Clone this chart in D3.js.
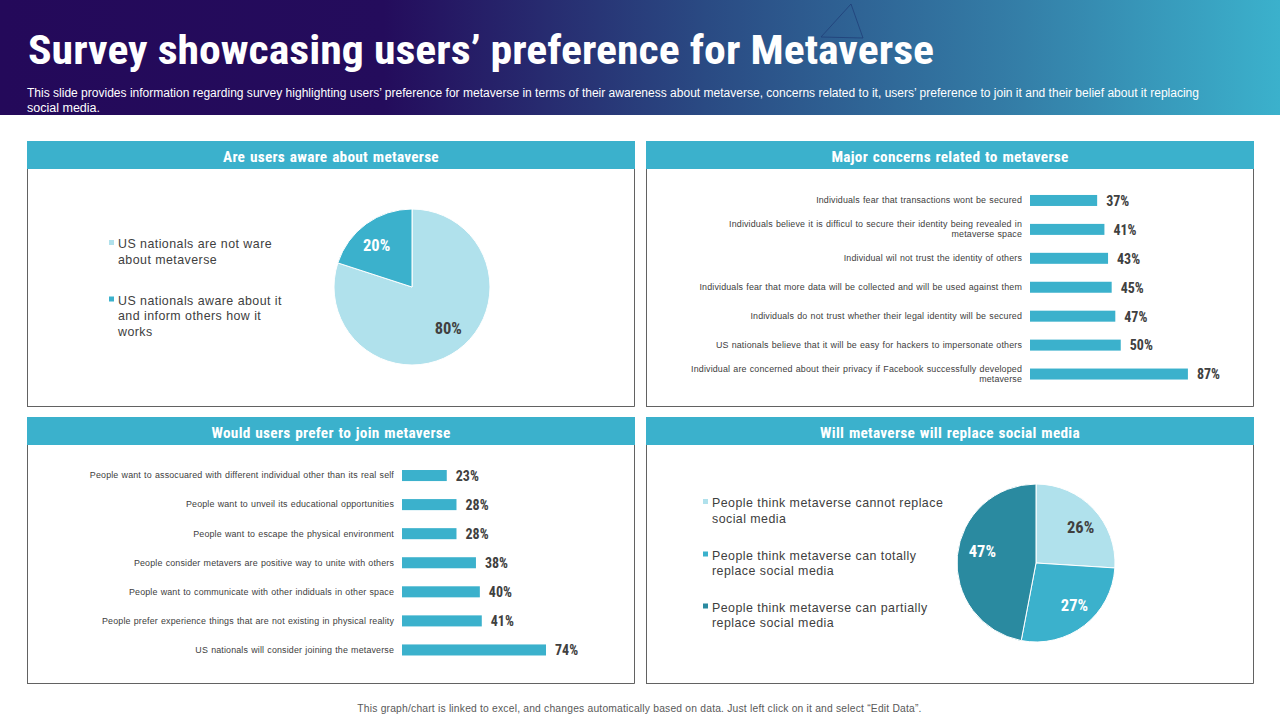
<!DOCTYPE html>
<html><head><meta charset="utf-8">
<script src="https://cdn.jsdelivr.net/npm/d3@7"></script>
<style>html,body{margin:0;padding:0;background:#fff}svg{display:block}text{font-family:"Liberation Sans",Arial,sans-serif}</style>
</head><body><svg id="c" width="1280" height="720"></svg>
<script>
const titleText="Survey showcasing users’ preference for Metaverse";
const subtitleLines=["This slide provides information regarding survey highlighting users’ preference for metaverse in terms of their awareness about metaverse, concerns related to it, users’ preference to join it and their belief about it replacing","social media."];
const footerText="This graph/chart is linked to excel, and changes automatically based on data. Just left click on it and select “Edit Data”.";
const panelTitles=["Are users aware about metaverse","Major concerns related to metaverse","Would users prefer to join metaverse","Will metaverse will replace social media"];

const awareLabels=["US nationals are not ware\nabout metaverse","US nationals aware about it\nand inform others how it\nworks"];
const awareValues=[80,20];
const concernCategories=["Individuals fear that transactions wont be secured","Individuals believe it is difficul to secure their identity being revealed in\nmetaverse space","Individual wil not trust the identity of others","Individuals fear that more data will be collected and will be used against them","Individuals do not trust whether their legal identity will be secured","US nationals believe that it will be easy for hackers to impersonate others","Individual are concerned about their privacy if Facebook successfully developed\nmetaverse"];
const concernValues=[37,41,43,45,47,50,87];
const joinCategories=["People want to assocuared with different individual other than its real self","People want to unveil its educational opportunities","People want to escape the physical environment","People consider metavers are positive way to unite with others","People want to communicate with other indiduals in other space","People prefer experience things that are not existing in physical reality","US nationals will consider joining the metaverse"];
const joinValues=[23,28,28,38,40,41,74];
const replaceLabels=["People think metaverse cannot replace\nsocial media","People think metaverse can totally\nreplace social media","People think metaverse can partially\nreplace social media"];
const replaceValues=[26,27,47];

const TEAL="#3BB1CC",LIGHT="#B0E1EC",DARK="#2A8AA0",INK="#404040";
const NARROW='"Liberation Sans Narrow","Roboto Condensed","Liberation Sans",sans-serif';
const svg=d3.select("#c");

// header band
const grad=svg.append("defs").append("linearGradient").attr("id","hg");
[[0,"#24095A"],[.3,"#240C5C"],[.55,"#2A4A83"],[.8,"#347FA8"],[1,"#3BB1CC"]].forEach(s=>grad.append("stop").attr("offset",s[0]).attr("stop-color",s[1]));
svg.append("rect").attr("width",1280).attr("height",115).attr("fill","url(#hg)");
svg.append("path").attr("d","M821 37L851 4L863 38Z").attr("fill","none").attr("stroke","#1f3f78").attr("stroke-width",.8);
svg.append("text").attr("x",28).attr("y",64).attr("fill","#fff").attr("font-size",41).attr("font-weight",700)
  .attr("textLength",906).attr("lengthAdjust","spacingAndGlyphs").style("font-family",NARROW).text(titleText);
subtitleLines.forEach((t,i)=>{
  const el=svg.append("text").attr("x",27).attr("y",97+i*14.5).attr("fill","#fff").attr("font-size",12).text(t);
  if(i===0) el.attr("textLength",1172).attr("lengthAdjust","spacingAndGlyphs");
  else el.attr("textLength",73).attr("lengthAdjust","spacingAndGlyphs");
});

// panels
const panels=[{x:27,y:141,h:266},{x:646,y:141,h:266},{x:27,y:417,h:267},{x:646,y:417,h:267}];
panels.forEach((p,i)=>{
  svg.append("rect").attr("x",p.x+.5).attr("y",p.y+.5).attr("width",607).attr("height",p.h-1).attr("fill","#fff").attr("stroke","#3c3c3c").attr("stroke-width",.8);
  svg.append("rect").attr("x",p.x).attr("y",p.y).attr("width",608).attr("height",28).attr("fill",TEAL);
  svg.append("text").attr("x",p.x+304).attr("y",p.y+20.5).attr("text-anchor","middle").attr("fill","#fff")
    .attr("font-size",15.3).attr("font-weight",700).style("font-family",NARROW).style("word-spacing","1px").style("letter-spacing",".25px").text(panelTitles[i]);
});

function bars(cats,vals,x0,pxPerPct,yTop,yBottom){
  const y=d3.scaleBand().domain(cats).range([yTop,yBottom]).paddingInner(.62).paddingOuter(.31);
  const x=d3.scaleLinear().domain([0,100]).range([x0,x0+pxPerPct*100]);
  const g=svg.append("g").attr("transform",`translate(${x0},0)`).call(d3.axisLeft(y).tickSize(0).tickPadding(8));
  g.select(".domain").remove();
  g.selectAll(".tick text").each(function(d){
    const lines=d.split("\n"),t=d3.select(this).text(null).attr("fill","#404040").attr("font-size",8.9).attr("dy",null).style("letter-spacing",".16px").style("word-spacing",".5px");
    lines.forEach((l,i)=>t.append("tspan").attr("x",-8).attr("y",(i-(lines.length-1)/2)*10.5).attr("dy","0.32em").text(l));
  });
  const rows=cats.map((c,i)=>({c,v:vals[i]}));
  svg.append("g").selectAll("rect").data(rows).join("rect").attr("x",x(0)).attr("y",d=>y(d.c)).attr("height",y.bandwidth())
    .attr("width",d=>x(d.v)-x(0)).attr("fill",TEAL);
  svg.append("g").selectAll("text").data(rows).join("text").attr("x",d=>x(d.v)+9).attr("y",d=>y(d.c)+y.bandwidth()/2+.3).attr("dy","0.36em")
    .attr("fill",INK).attr("font-size",14).attr("font-weight",700).style("font-family",NARROW).text(d=>d.v+"%");
}
bars(concernCategories,concernValues,1030,1.815,186,388.5);
bars(joinCategories,joinValues,402,1.946,461,664.5);

function pie(vals,colors,cx,cy,r,labelPos,labelColors,nudges){
  const arcs=d3.pie().sort(null)(vals),arc=d3.arc().innerRadius(0).outerRadius(r);
  const g=svg.append("g").attr("transform",`translate(${cx},${cy})`);
  g.selectAll("path").data(arcs).join("path").attr("d",arc).attr("fill",(d,i)=>colors[i]).attr("stroke","#fff").attr("stroke-width",1);
  g.selectAll("text").data(arcs).join("text").attr("text-anchor","middle").attr("dy","0.36em")
    .attr("transform",(d,i)=>{const c=d3.arc().innerRadius(0).outerRadius(r*2*labelPos[i]).centroid(d);return `translate(${c[0]+nudges[i][0]},${c[1]+nudges[i][1]})`})
    .attr("fill",(d,i)=>labelColors[i]).attr("font-size",16.5).attr("font-weight",700).style("font-family",NARROW).text(d=>d.value+"%");
}
pie(awareValues,[LIGHT,TEAL],412,287,78,[.77,.62],[INK,"#fff"],[[1,-8],[-7,-3]]);
pie(replaceValues,[LIGHT,TEAL,DARK],1036,563,79,[.67,.67,.72],[INK,"#fff","#fff"],[[6,0],[6,0],[3,-7]]);

function legend(labels,colors,x,ys){
  labels.forEach((l,i)=>{
    svg.append("rect").attr("x",x).attr("y",ys[i]-4).attr("width",5).attr("height",5).attr("fill",colors[i]);
    l.split("\n").forEach((s,j)=>svg.append("text").attr("x",x+9).attr("y",ys[i]+.4+j*15.6).attr("dy","0.3em").attr("fill",INK)
      .attr("font-size",12.4).style("letter-spacing",".46px").text(s));
  });
}
legend(awareLabels,[LIGHT,TEAL],109,[244,300.5]);
legend(replaceLabels,[LIGHT,TEAL,DARK],703,[503,555.5,607.5]);

svg.append("text").attr("x",639.5).attr("y",712).attr("text-anchor","middle").attr("fill","#595959").attr("font-size",10.3).style("letter-spacing",".2px").text(footerText);
</script></body></html>
